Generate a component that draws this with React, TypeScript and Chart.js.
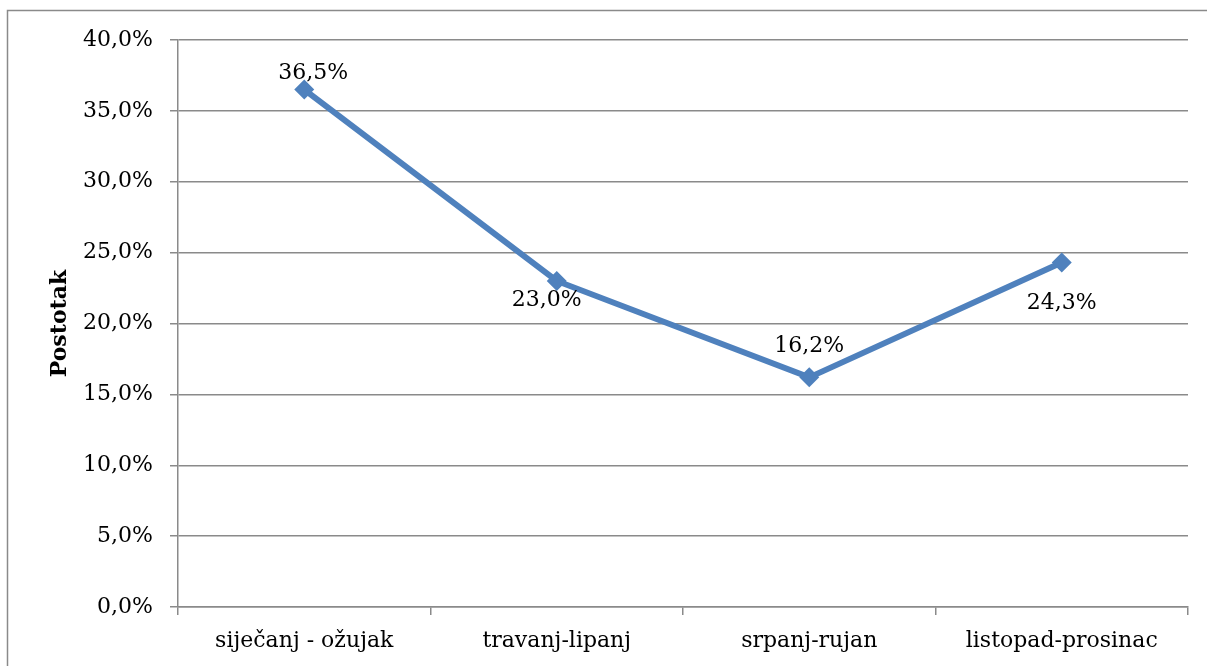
import React, { useEffect, useRef } from "react";
import { Chart, registerables } from "chart.js";

Chart.register(...registerables);

const categories = ["siječanj - ožujak", "travanj-lipanj", "srpanj-rujan", "listopad-prosinac"];
const values = [36.5, 23.0, 16.2, 24.3];
const valueLabels = ["36,5%", "23,0%", "16,2%", "24,3%"];
const yTickValues = [0, 5, 10, 15, 20, 25, 30, 35, 40];
const yTitle = "Postotak";

const FONT = "'DejaVu Serif', serif";
const labelOffsets = [
  [9, -16],
  [-10, 19],
  [0, -31],
  [0, 41],
];

const framePlugin = {
  id: "frame",
  beforeDraw(chart: any) {
    const ctx = chart.ctx;
    ctx.save();
    ctx.fillStyle = "#ffffff";
    ctx.fillRect(0, 0, chart.width, chart.height);
    ctx.strokeStyle = "#8a8a8a";
    ctx.lineWidth = 1.5;
    ctx.beginPath();
    ctx.moveTo(7.5, chart.height + 5);
    ctx.lineTo(7.5, 10.5);
    ctx.lineTo(chart.width + 5, 10.5);
    ctx.stroke();
    ctx.restore();
  },
};

const labelPlugin = {
  id: "valueLabels",
  afterDatasetsDraw(chart: any) {
    const ctx = chart.ctx;
    const meta = chart.getDatasetMeta(0);
    ctx.save();
    ctx.font = `22px ${FONT}`;
    ctx.fillStyle = "#000";
    ctx.textAlign = "center";
    ctx.textBaseline = "middle";
    meta.data.forEach((pt: any, i: number) => {
      const [dx, dy] = labelOffsets[i];
      ctx.fillText(valueLabels[i], pt.x + dx, pt.y + dy);
    });
    ctx.restore();
  },
};

export default function App() {
  const ref = useRef<HTMLCanvasElement>(null);
  useEffect(() => {
    const chart = new Chart(ref.current!, {
      type: "line",
      data: {
        labels: categories,
        datasets: [
          {
            data: values,
            borderColor: "#4F81BD",
            backgroundColor: "#4F81BD",
            borderWidth: 6,
            pointStyle: "rectRot",
            pointRadius: 10,
            pointBorderWidth: 0,
            pointBackgroundColor: "#4F81BD",
            tension: 0,
          },
        ],
      },
      options: {
        responsive: false,
        animation: false,
        events: [],
        layout: { padding: { left: 43, right: 19, top: 40, bottom: 0 } },
        plugins: { legend: { display: false }, tooltip: { enabled: false } },
        scales: {
          x: {
            offset: true,
            grid: {
              offset: true,
              drawOnChartArea: false,
              tickLength: 8,
              color: "#8a8a8a",
              lineWidth: 1.5,
            },
            border: { color: "#8a8a8a", width: 1.5 },
            ticks: { font: { family: FONT, size: 22 }, color: "#000", padding: 13, maxRotation: 0 },
            afterFit(scale: any) {
              scale.height = 59;
            },
          },
          y: {
            min: 0,
            max: 40,
            afterBuildTicks(scale: any) {
              scale.ticks = yTickValues.map((v) => ({ value: v }));
            },
            grid: { color: "#8a8a8a", lineWidth: 1.5, tickLength: 8 },
            border: { color: "#8a8a8a", width: 1.5 },
            ticks: {
              font: { family: FONT, size: 22 },
              color: "#000",
              padding: 17,
              callback: (v: any) => Number(v).toFixed(1).replace(".", ",") + "%",
            },
            title: {
              display: true,
              text: yTitle,
              font: { family: FONT, size: 22, weight: "bold" },
              color: "#000",
            },
            afterFit(scale: any) {
              scale.width = 135;
            },
          },
        },
      },
      plugins: [framePlugin, labelPlugin],
    });
    return () => chart.destroy();
  }, []);
  return (
    <div style={{ position: "fixed", left: 0, top: 0, width: 1207, height: 666 }}>
      <canvas ref={ref} width={1207} height={666} style={{ width: 1207, height: 666, display: "block" }} />
    </div>
  );
}
